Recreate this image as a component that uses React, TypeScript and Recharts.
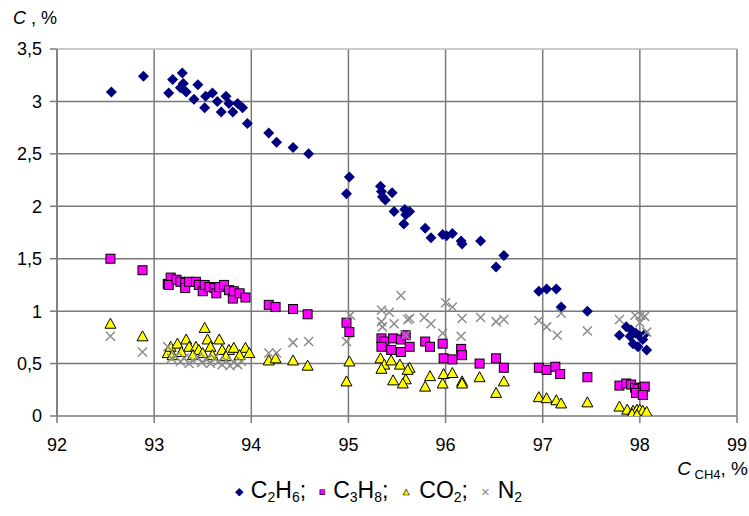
import React from "react";
import {
  ScatterChart,
  Scatter,
  XAxis,
  YAxis,
  CartesianGrid,
  ReferenceLine,
} from "recharts";

// [C_CH4 %, C %]
const c2h6: [number, number][] = [
  [92.56, 3.09], [92.89, 3.24], [93.15, 3.08], [93.19, 3.21], [93.29, 3.27],
  [93.3, 3.17], [93.27, 3.13], [93.33, 3.09], [93.45, 3.16], [93.41, 3.02],
  [93.52, 2.94], [93.53, 3.05], [93.6, 3.08], [93.65, 3.0], [93.69, 2.9],
  [93.74, 3.05], [93.77, 2.98], [93.81, 2.9], [93.86, 2.98], [93.91, 2.94],
  [93.96, 2.79], [94.18, 2.7], [94.26, 2.61], [94.43, 2.56], [94.59, 2.5],
  [95.01, 2.28], [94.98, 2.12], [95.33, 2.19], [95.34, 2.14], [95.35, 2.09],
  [95.38, 2.06], [95.45, 2.13], [95.47, 1.95], [95.58, 1.97], [95.63, 1.95],
  [95.59, 1.92], [95.57, 1.83], [95.79, 1.79], [95.85, 1.7], [95.97, 1.73],
  [96.01, 1.72], [96.07, 1.74], [96.16, 1.67], [96.17, 1.64], [96.36, 1.67],
  [96.6, 1.53], [96.52, 1.42], [96.96, 1.19], [97.04, 1.21], [97.14, 1.21],
  [97.19, 1.04], [97.46, 1.0], [97.79, 0.77], [97.86, 0.85], [97.91, 0.82],
  [97.9, 0.76], [97.96, 0.79], [98.0, 0.76], [98.03, 0.73], [98.05, 0.78],
  [97.93, 0.69], [97.98, 0.66], [98.07, 0.63],
];

const c3h8: [number, number][] = [
  [92.55, 1.5], [92.88, 1.39], [93.14, 1.26], [93.17, 1.32], [93.15, 1.25],
  [93.23, 1.3], [93.27, 1.28], [93.32, 1.27], [93.32, 1.22], [93.36, 1.28],
  [93.43, 1.28], [93.46, 1.25], [93.5, 1.19], [93.52, 1.25], [93.57, 1.23],
  [93.62, 1.22], [93.64, 1.17], [93.67, 1.23], [93.72, 1.25], [93.77, 1.2],
  [93.81, 1.12], [93.82, 1.19], [93.88, 1.17], [93.94, 1.13], [94.18, 1.06],
  [94.25, 1.04], [94.43, 1.02], [94.58, 0.97], [94.98, 0.89], [95.01, 0.8],
  [95.34, 0.74], [95.37, 0.71], [95.34, 0.66], [95.46, 0.74], [95.54, 0.73],
  [95.59, 0.77], [95.63, 0.66], [95.44, 0.63], [95.54, 0.61], [95.79, 0.71],
  [95.84, 0.66], [95.97, 0.69], [95.98, 0.55], [96.07, 0.54], [96.16, 0.64],
  [96.17, 0.58], [96.35, 0.5], [96.52, 0.55], [96.6, 0.46], [96.96, 0.46],
  [97.04, 0.44], [97.13, 0.47], [97.18, 0.4], [97.46, 0.37], [97.79, 0.29],
  [97.86, 0.31], [97.91, 0.3], [97.95, 0.27], [97.98, 0.26], [98.03, 0.27],
  [98.05, 0.28], [97.96, 0.22], [98.03, 0.2],
];

const co2: [number, number][] = [
  [92.55, 0.88], [92.88, 0.76], [93.52, 0.84], [93.14, 0.6], [93.17, 0.66],
  [93.24, 0.69], [93.33, 0.73], [93.36, 0.66], [93.43, 0.66], [93.46, 0.63],
  [93.55, 0.73], [93.58, 0.66], [93.67, 0.73], [93.7, 0.63], [93.77, 0.63],
  [93.82, 0.65], [93.94, 0.65], [93.88, 0.58], [93.98, 0.6], [93.19, 0.58],
  [93.4, 0.58], [93.6, 0.58], [93.74, 0.57], [93.28, 0.61], [93.5, 0.6],
  [94.18, 0.53], [94.25, 0.55], [94.43, 0.53], [94.58, 0.48], [95.01, 0.52],
  [94.98, 0.33], [95.33, 0.55], [95.37, 0.49], [95.34, 0.45], [95.44, 0.53],
  [95.53, 0.49], [95.63, 0.46], [95.61, 0.44], [95.46, 0.34], [95.59, 0.35],
  [95.56, 0.31], [95.84, 0.38], [95.79, 0.28], [95.98, 0.4], [96.07, 0.41],
  [95.97, 0.31], [96.17, 0.33], [96.17, 0.31], [96.35, 0.37], [96.6, 0.33],
  [96.52, 0.22], [96.96, 0.18], [97.04, 0.17], [97.14, 0.15], [97.19, 0.12],
  [97.46, 0.13], [97.79, 0.09], [97.87, 0.06], [97.93, 0.05], [97.97, 0.06],
  [98.0, 0.06], [98.03, 0.05], [98.07, 0.04], [97.92, 0.02], [97.97, 0.01],
];

const n2: [number, number][] = [
  [92.55, 0.76], [92.88, 0.61], [93.14, 0.66], [93.18, 0.55], [93.22, 0.57],
  [93.27, 0.52], [93.31, 0.55], [93.36, 0.5], [93.4, 0.53], [93.45, 0.56],
  [93.49, 0.51], [93.54, 0.54], [93.58, 0.5], [93.62, 0.55], [93.66, 0.52],
  [93.7, 0.49], [93.74, 0.53], [93.78, 0.48], [93.82, 0.51], [93.86, 0.49],
  [93.9, 0.52], [94.18, 0.6], [94.26, 0.6], [94.43, 0.7], [94.59, 0.71],
  [95.02, 0.96], [94.98, 0.71], [95.54, 1.15], [95.34, 1.01], [95.42, 0.99],
  [95.34, 0.9], [95.47, 0.88], [95.61, 0.92], [95.63, 0.93], [95.35, 0.85],
  [95.78, 0.94], [95.85, 0.88], [95.59, 0.77], [96.0, 1.08], [96.07, 1.04],
  [96.17, 0.93], [95.97, 0.79], [96.16, 0.76], [96.36, 0.94], [96.52, 0.9],
  [96.6, 0.92], [96.96, 0.91], [97.04, 0.85], [97.15, 0.77], [97.19, 0.98],
  [97.46, 0.81], [97.79, 0.92], [97.95, 0.96], [98.01, 0.96], [98.05, 0.95],
  [98.0, 0.89], [98.07, 0.8],
];

const xTicks = [92, 93, 94, 95, 96, 97, 98, 99];
const yTicks = [0, 0.5, 1, 1.5, 2, 2.5, 3, 3.5];
const innerGridY = [0.5, 1, 1.5, 2, 2.5, 3];

const FONT = "'Liberation Sans', Arial, sans-serif";
const GRID = "#7a7a7a";

const toPoints = (arr: [number, number][]) => arr.map(([x, y]) => ({ x, y }));

const Diamond = (p: any) => {
  const { cx, cy } = p;
  const r = 5.5;
  return (
    <path
      d={`M${cx},${cy - r}L${cx + r},${cy}L${cx},${cy + r}L${cx - r},${cy}Z`}
      fill="#000080"
    />
  );
};

const Square = (p: any) => {
  const { cx, cy } = p;
  return (
    <rect x={cx - 4.5} y={cy - 4.5} width={9} height={9} fill="#ff00ff" stroke="#000" strokeWidth={1} />
  );
};

const Triangle = (p: any) => {
  const { cx, cy } = p;
  return (
    <path
      d={`M${cx},${cy - 5.5}L${cx + 5.5},${cy + 4.5}L${cx - 5.5},${cy + 4.5}Z`}
      fill="#ffff00"
      stroke="#000"
      strokeWidth={1}
    />
  );
};

const Cross = (p: any) => {
  const { cx, cy } = p;
  const r = 4.5;
  return (
    <path
      d={`M${cx - r},${cy - r}L${cx + r},${cy + r}M${cx + r},${cy - r}L${cx - r},${cy + r}`}
      stroke="#8c8c8c"
      strokeWidth={1.5}
      fill="none"
    />
  );
};

const fmt = (v: number) => String(v).replace(".", ",");

const sub = { fontSize: 14, verticalAlign: "-4px" } as React.CSSProperties;

const LegendBox = () => {
  const mk = (glyph: string, color: string, extra: React.CSSProperties = {}) => (
    <span style={{ color, fontSize: 11, marginRight: 8, verticalAlign: "3px", ...extra }}>{glyph}</span>
  );
  const gap = <span style={{ display: "inline-block", width: 13 }} />;
  return (
    <div style={{ fontFamily: FONT, fontSize: 23, color: "#000", textAlign: "center", whiteSpace: "nowrap" }}>
      {mk("◆", "#000080")}C<sub style={sub}>2</sub>H<sub style={sub}>6</sub>;
      {gap}
      {mk("■", "#ff00ff", { WebkitTextStroke: "0.6px #000", fontSize: 10 })}C<sub style={sub}>3</sub>H<sub style={sub}>8</sub>;
      {gap}
      {mk("▲", "#ffff00", { WebkitTextStroke: "0.6px #000", fontSize: 10 })}CO<sub style={sub}>2</sub>;
      {gap}
      {mk("×", "#8c8c8c", { fontSize: 15, verticalAlign: "1px" })}N<sub style={sub}>2</sub>
    </div>
  );
};

export default function App() {
  return (
    <div style={{ position: "absolute", left: 0, top: 0, width: 749, height: 516, background: "#fff" }}>
      <div style={{ position: "absolute", left: 13, top: 8, fontFamily: FONT, fontSize: 18, color: "#000" }}>
        <i>C</i> , %
      </div>
      <div style={{ position: "absolute", right: 1, top: 458, fontFamily: FONT, fontSize: 19, color: "#000" }}>
        <i>C</i>
        <sub style={{ fontSize: 13, verticalAlign: "-4px" }}> CH4</sub>, %
      </div>
      <div style={{ position: "absolute", left: 0, top: 477, width: 757 }}>
        <LegendBox />
      </div>
      <ScatterChart width={749} height={516} margin={{ top: 49, right: 12, bottom: 70, left: 0 }}>
        <CartesianGrid
          stroke={GRID}
          strokeWidth={1.5}
          horizontalValues={innerGridY}
          verticalValues={xTicks}
        />
        <ReferenceLine y={3.5} stroke="#b8b8b8" strokeWidth={1.5} />
        <XAxis
          type="number"
          dataKey="x"
          domain={[92, 99]}
          ticks={xTicks}
          interval={0}
          height={30}
          tickSize={7}
          tickMargin={15}
          axisLine={{ stroke: GRID, strokeWidth: 1.5 }}
          tickLine={{ stroke: GRID, strokeWidth: 1.5 }}
          tick={{ fill: "#000", fontSize: 18, fontFamily: FONT }}
          allowDataOverflow
        />
        <YAxis
          type="number"
          dataKey="y"
          domain={[0, 3.5]}
          ticks={yTicks}
          interval={0}
          width={57}
          tickSize={7}
          tickMargin={8}
          tickFormatter={fmt}
          axisLine={{ stroke: GRID, strokeWidth: 1.5 }}
          tickLine={{ stroke: GRID, strokeWidth: 1.5 }}
          tick={{ fill: "#000", fontSize: 18, fontFamily: FONT }}
          allowDataOverflow
        />
        <Scatter name="C2H6" data={toPoints(c2h6)} shape={Diamond} isAnimationActive={false} />
        <Scatter name="C3H8" data={toPoints(c3h8)} shape={Square} isAnimationActive={false} />
        <Scatter name="CO2" data={toPoints(co2)} shape={Triangle} isAnimationActive={false} />
        <Scatter name="N2" data={toPoints(n2)} shape={Cross} isAnimationActive={false} />
      </ScatterChart>
    </div>
  );
}
